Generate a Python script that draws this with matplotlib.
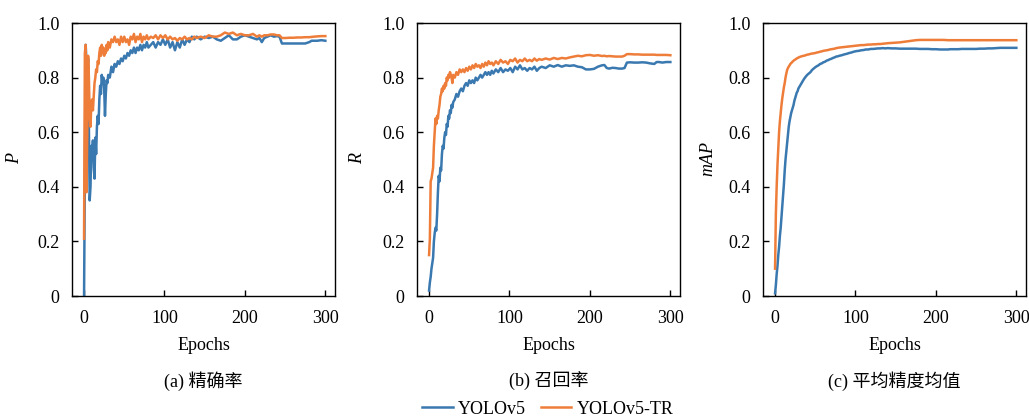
import matplotlib
matplotlib.use("Agg")
import matplotlib.pyplot as plt
from matplotlib.ticker import FuncFormatter

plt.rcParams['font.family'] = ['Liberation Serif', 'Noto Sans CJK SC']
plt.rcParams['mathtext.fontset'] = 'stix'

# ---------------- data ----------------
epochs = [0, 1, 2, 3, 4, 5, 6, 7, 8, 9, 10, 11, 12, 13, 14, 15, 16, 17, 18, 19,
          20, 21, 22, 23, 24, 25, 26, 27, 28, 29, 30, 32, 34, 36, 38, 40, 42, 44,
          46, 48, 50, 52, 54, 56, 58, 60, 62, 64, 66, 68, 70, 72, 74, 76, 78, 80,
          83, 86, 89, 92, 95, 98, 101, 104, 107, 110, 113, 116, 119, 122, 125,
          128, 131, 134, 137, 140, 145, 150, 155, 160, 165, 170, 175, 180, 185,
          190, 195, 200, 205, 210, 215, 218, 221, 224, 228, 232, 236, 240, 243,
          246, 250, 255, 260, 265, 270, 275, 280, 283, 286, 290, 295, 300]

p_yolov5 = [0.0, 0.45, 0.92, 0.86, 0.81, 0.87, 0.62, 0.35, 0.40, 0.55, 0.52, 0.57,
            0.47, 0.43, 0.58, 0.52, 0.62, 0.66, 0.63, 0.72, 0.77, 0.74, 0.81, 0.78,
            0.80, 0.76, 0.66, 0.74, 0.79, 0.78, 0.81, 0.80, 0.84, 0.82, 0.85, 0.84,
            0.86, 0.85, 0.87, 0.86, 0.88, 0.87, 0.89, 0.88, 0.90, 0.89, 0.91, 0.89,
            0.91, 0.90, 0.92, 0.90, 0.92, 0.91, 0.93, 0.91, 0.92, 0.93, 0.91, 0.93,
            0.92, 0.94, 0.92, 0.94, 0.91, 0.93, 0.90, 0.93, 0.91, 0.94, 0.92, 0.94,
            0.93, 0.95, 0.94, 0.95, 0.94, 0.95, 0.945, 0.95, 0.94, 0.935, 0.945,
            0.955, 0.94, 0.94, 0.95, 0.955, 0.95, 0.945, 0.94, 0.945, 0.93, 0.945,
            0.95, 0.955, 0.95, 0.952, 0.95, 0.925, 0.925, 0.925, 0.925, 0.925,
            0.925, 0.925, 0.93, 0.935, 0.935, 0.935, 0.937, 0.935]

p_yolov5_tr = [0.21, 0.89, 0.92, 0.38, 0.60, 0.88, 0.80, 0.66, 0.62, 0.70, 0.72,
               0.68, 0.73, 0.78, 0.80, 0.83, 0.82, 0.86, 0.85, 0.89, 0.91, 0.88,
               0.92, 0.89, 0.91, 0.88, 0.90, 0.89, 0.92, 0.90, 0.93, 0.91, 0.94,
               0.93, 0.95, 0.93, 0.94, 0.92, 0.95, 0.93, 0.95, 0.93, 0.94, 0.92,
               0.95, 0.94, 0.96, 0.93, 0.95, 0.94, 0.96, 0.93, 0.95, 0.94, 0.955,
               0.94, 0.95, 0.945, 0.955, 0.94, 0.955, 0.945, 0.955, 0.94, 0.95,
               0.94, 0.945, 0.935, 0.945, 0.94, 0.95, 0.94, 0.945, 0.94, 0.95,
               0.945, 0.95, 0.945, 0.955, 0.95, 0.95, 0.955, 0.965, 0.96, 0.965,
               0.955, 0.96, 0.955, 0.955, 0.96, 0.95, 0.955, 0.95, 0.955, 0.955,
               0.958, 0.958, 0.955, 0.955, 0.945, 0.945, 0.946, 0.946, 0.947,
               0.947, 0.948, 0.948, 0.949, 0.95, 0.951, 0.952, 0.952]

r_yolov5 = [0.02, 0.05, 0.07, 0.10, 0.12, 0.14, 0.20, 0.23, 0.25, 0.24, 0.30, 0.38,
            0.44, 0.42, 0.47, 0.46, 0.52, 0.55, 0.54, 0.58, 0.60, 0.59, 0.63, 0.62,
            0.66, 0.65, 0.68, 0.67, 0.70, 0.69, 0.71, 0.72, 0.74, 0.73, 0.75, 0.76,
            0.75, 0.77, 0.78, 0.77, 0.79, 0.78, 0.79, 0.78, 0.80, 0.79, 0.80, 0.81,
            0.80, 0.81, 0.82, 0.81, 0.82, 0.81, 0.825, 0.815, 0.83, 0.82, 0.835,
            0.82, 0.83, 0.825, 0.835, 0.82, 0.84, 0.83, 0.845, 0.83, 0.835, 0.825,
            0.835, 0.83, 0.84, 0.825, 0.835, 0.84, 0.835, 0.845, 0.84, 0.846, 0.84,
            0.845, 0.843, 0.845, 0.84, 0.838, 0.83, 0.83, 0.832, 0.84, 0.845,
            0.846, 0.835, 0.833, 0.836, 0.835, 0.833, 0.833, 0.835, 0.855, 0.856,
            0.855, 0.855, 0.856, 0.855, 0.852, 0.85, 0.857, 0.857, 0.855, 0.857,
            0.857]

r_yolov5_tr = [0.15, 0.21, 0.42, 0.43, 0.45, 0.47, 0.55, 0.60, 0.65, 0.63, 0.66,
               0.65, 0.68, 0.70, 0.73, 0.74, 0.76, 0.75, 0.77, 0.76, 0.78, 0.77,
               0.80, 0.79, 0.81, 0.80, 0.82, 0.81, 0.80, 0.78, 0.81, 0.80, 0.82,
               0.81, 0.83, 0.82, 0.83, 0.82, 0.835, 0.825, 0.84, 0.83, 0.845,
               0.835, 0.85, 0.84, 0.845, 0.835, 0.85, 0.84, 0.855, 0.845, 0.86,
               0.85, 0.855, 0.845, 0.86, 0.85, 0.865, 0.855, 0.86, 0.85, 0.865,
               0.86, 0.87, 0.855, 0.865, 0.86, 0.87, 0.86, 0.865, 0.86, 0.87,
               0.862, 0.868, 0.865, 0.87, 0.866, 0.872, 0.868, 0.872, 0.87, 0.874,
               0.877, 0.88, 0.878, 0.882, 0.883, 0.88, 0.882, 0.879, 0.88, 0.878,
               0.879, 0.878, 0.877, 0.877, 0.877, 0.88, 0.886, 0.886, 0.885, 0.885,
               0.884, 0.884, 0.884, 0.884, 0.883, 0.883, 0.883, 0.883, 0.882]

map_yolov5 = [0.01, 0.04, 0.08, 0.11, 0.15, 0.18, 0.22, 0.25, 0.29, 0.33, 0.37,
              0.41, 0.46, 0.50, 0.53, 0.56, 0.59, 0.62, 0.64, 0.655, 0.67, 0.68,
              0.69, 0.70, 0.715, 0.725, 0.735, 0.745, 0.75, 0.76, 0.765, 0.775,
              0.785, 0.795, 0.803, 0.81, 0.815, 0.82, 0.828, 0.833, 0.838, 0.842,
              0.845, 0.85, 0.852, 0.856, 0.858, 0.862, 0.864, 0.867, 0.869, 0.872,
              0.874, 0.877, 0.878, 0.88, 0.882, 0.885, 0.887, 0.89, 0.892, 0.895,
              0.897, 0.898, 0.9, 0.901, 0.903, 0.903, 0.905, 0.905, 0.906, 0.907,
              0.907, 0.908, 0.907, 0.908, 0.907, 0.907, 0.906, 0.906, 0.906, 0.906,
              0.906, 0.905, 0.905, 0.905, 0.904, 0.904, 0.903, 0.903, 0.903, 0.904,
              0.904, 0.904, 0.904, 0.905, 0.905, 0.905, 0.905, 0.905, 0.905, 0.906,
              0.906, 0.907, 0.907, 0.908, 0.909, 0.909, 0.909, 0.909, 0.909, 0.909]

map_yolov5_tr = [0.10, 0.30, 0.40, 0.48, 0.54, 0.60, 0.64, 0.67, 0.70, 0.725,
                 0.745, 0.765, 0.78, 0.80, 0.815, 0.828, 0.835, 0.84, 0.845, 0.85,
                 0.853, 0.856, 0.859, 0.862, 0.864, 0.866, 0.868, 0.87, 0.872,
                 0.873, 0.875, 0.877, 0.879, 0.88, 0.882, 0.884, 0.885, 0.887,
                 0.888, 0.889, 0.89, 0.892, 0.893, 0.895, 0.896, 0.898, 0.899,
                 0.90, 0.901, 0.903, 0.904, 0.905, 0.906, 0.908, 0.909, 0.91, 0.911,
                 0.912, 0.913, 0.914, 0.915, 0.916, 0.917, 0.918, 0.919, 0.919,
                 0.92, 0.921, 0.921, 0.922, 0.922, 0.923, 0.923, 0.924, 0.925,
                 0.926, 0.927, 0.928, 0.929, 0.931, 0.933, 0.935, 0.937, 0.938,
                 0.938, 0.938, 0.938, 0.938, 0.938, 0.938, 0.937, 0.937, 0.937,
                 0.937, 0.937, 0.937, 0.937, 0.937, 0.937, 0.937, 0.937, 0.937,
                 0.937, 0.937, 0.937, 0.937, 0.937, 0.937, 0.937, 0.937, 0.937,
                 0.937]

series_names = ["YOLOv5", "YOLOv5-TR"]
ylabels = ["P", "R", "mAP"]
captions = ["(a) 精确率", "(b) 召回率", "(c) 平均精度均值"]
yticks = [0, 0.2, 0.4, 0.6, 0.8, 1.0]
xticks = [0, 100, 200, 300]

panels = [(p_yolov5, p_yolov5_tr), (r_yolov5, r_yolov5_tr),
          (map_yolov5, map_yolov5_tr)]

# ---------------- drawing ----------------
W, H = 1029, 419
FS = 13
fig = plt.figure(figsize=(W / 100, H / 100), dpi=100)
colors = ['#3a78b0', '#ef7d3a']
lefts = [72, 417, 763]
ylabel_x = [15, 358, 708]
ax_w, ax_top, ax_bot = 263, 23, 296

fmt = FuncFormatter(lambda v, pos: '0' if abs(v) < 1e-9 else f'{v:.1f}')
lines = []
for i, (ys_a, ys_b) in enumerate(panels):
    ax = fig.add_axes([lefts[i] / W, 1 - ax_bot / H, ax_w / W, (ax_bot - ax_top) / H])
    l1, = ax.plot(epochs, ys_a, color=colors[0], lw=1.8)
    l2, = ax.plot(epochs, ys_b, color=colors[1], lw=1.8)
    if i == 0:
        lines = [l1, l2]
    ax.set_xlim(-15, 312)
    ax.set_ylim(0, 1.0)
    ax.set_yticks(yticks)
    ax.set_xticks(xticks)
    ax.yaxis.set_major_formatter(fmt)
    ax.tick_params(direction='in', length=4, width=1, labelsize=FS,
                   top=False, right=False)
    ax.tick_params(axis='y', pad=9)
    ax.tick_params(axis='x', pad=10)
    for s in ax.spines.values():
        s.set_linewidth(1.0)
    fig.text((lefts[i] + ax_w / 2 + 0.5 * (lefts[i] - lefts[i])) / W + 0.0,
             1 - 345 / H, "Epochs", ha='center', va='center', fontsize=FS)
    fig.text(ylabel_x[i] / W, 1 - 159 / H, ylabels[i], ha='center', va='center',
             fontsize=FS, style='italic', rotation=90)
    cx = (lefts[i] + ax_w / 2) / W
    fig.text(cx, 1 - 381 / H, captions[i], ha='center', va='center', fontsize=FS,
             family=['Liberation Serif', 'Noto Sans CJK SC'])

fig.legend(lines, series_names, loc='center', ncol=2,
           bbox_to_anchor=(548 / W, 1 - 409 / H), frameon=False, fontsize=FS,
           handlelength=1.7, handletextpad=0.3, columnspacing=0.8,
           borderaxespad=0, borderpad=0)

fig.savefig("out.png", dpi=100)
